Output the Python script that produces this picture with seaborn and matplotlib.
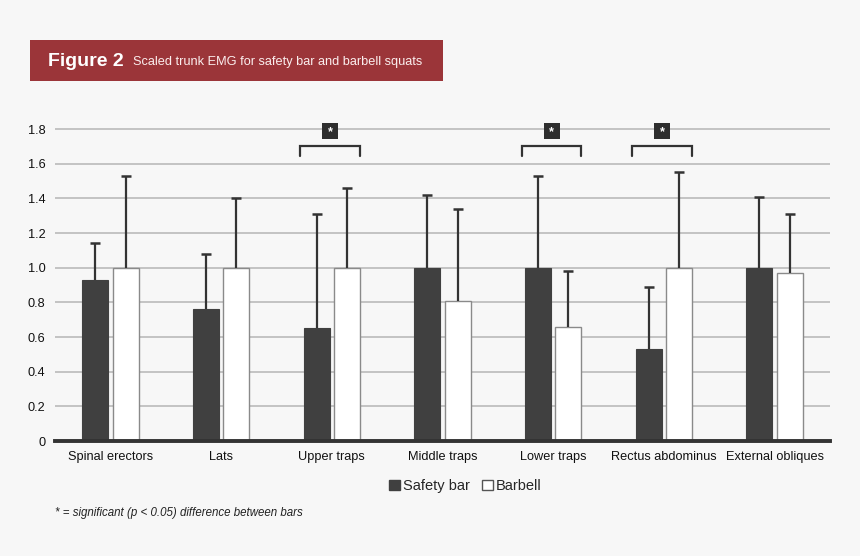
import pandas as pd
import matplotlib.pyplot as plt
import seaborn as sns
from matplotlib.patches import Patch, Rectangle

# Chart data
muscles = ["Spinal erectors", "Lats", "Upper traps", "Middle traps",
           "Lower traps", "Rectus abdominus", "External obliques"]
safety_bar = [0.93, 0.76, 0.65, 1.0, 1.0, 0.53, 1.0]
barbell = [1.0, 1.0, 1.0, 0.81, 0.66, 1.0, 0.97]
safety_sd = [0.21, 0.32, 0.66, 0.42, 0.53, 0.36, 0.41]
barbell_sd = [0.53, 0.40, 0.46, 0.53, 0.32, 0.55, 0.34]
significant = ["Upper traps", "Lower traps", "Rectus abdominus"]
yticks = [0, 0.2, 0.4, 0.6, 0.8, 1.0, 1.2, 1.4, 1.6, 1.8]
ytick_labels = ["0", "0.2", "0.4", "0.6", "0.8", "1.0", "1.2", "1.4", "1.6", "1.8"]

df = pd.DataFrame({
    "Muscle": muscles * 2,
    "Squat": ["Safety bar"] * len(muscles) + ["Barbell"] * len(muscles),
    "EMG": safety_bar + barbell,
})

sns.set_theme(style="white")
plt.rcParams["font.family"] = ["Liberation Sans", "DejaVu Sans"]

bg = "#f7f7f7"
dark = "#404040"
fig = plt.figure(figsize=(8.6, 5.56), dpi=100, facecolor=bg)
ax = fig.add_axes([0.064, 0.2068, 0.901, 0.5705], facecolor=bg)

sns.barplot(data=df, x="Muscle", y="EMG", hue="Squat", order=muscles,
            hue_order=["Safety bar", "Barbell"],
            palette={"Safety bar": dark, "Barbell": "white"},
            width=0.55, gap=0.145, legend=False, ax=ax, zorder=3)

# bar edges
for bar in ax.containers[0]:
    bar.set_edgecolor(dark)
    bar.set_linewidth(0.8)
for bar in ax.containers[1]:
    bar.set_edgecolor("#8a8a8a")
    bar.set_linewidth(1.0)

# upward-only error bars (cap only at the top)
for cont, sd in zip(ax.containers[:2], [safety_sd, barbell_sd]):
    xs = [b.get_x() + b.get_width() / 2 for b in cont]
    ys = [b.get_height() for b in cont]
    tops = [y + s for y, s in zip(ys, sd)]
    ax.vlines(xs, ys, tops, color="#333333", lw=1.6, zorder=4)
    ax.plot(xs, tops, ls="none", marker="_", ms=7, mew=1.8, color="#333333", zorder=4)

# significance brackets
for m in significant:
    i = muscles.index(m)
    b1 = ax.containers[0][i]
    b2 = ax.containers[1][i]
    x1 = b1.get_x() - 0.03
    x2 = b2.get_x() + b2.get_width()
    ax.plot([x1, x1, x2, x2], [1.645, 1.70, 1.70, 1.645], color="#333333",
            lw=1.6, zorder=4, solid_joinstyle="miter")
    xm = (x1 + x2) / 2
    ax.plot([xm], [1.79], marker="s", ms=11.5, color="#2e2e2e", mew=0,
            zorder=5, clip_on=False)
    ax.text(xm, 1.783, "*", ha="center", va="center", color="white",
            fontsize=9, fontweight="bold", zorder=6)

ax.set_xlim(-0.5, len(muscles) - 0.5)
ax.set_ylim(0, 1.83)
ax.set_yticks(yticks)
ax.set_yticklabels(ytick_labels)
ax.yaxis.grid(True, color="#b5b5b5", linewidth=1.1)
ax.set_axisbelow(True)
ax.set_xlabel("")
ax.set_ylabel("")
ax.tick_params(axis="both", length=0, labelsize=9.2, colors="#111111")
ax.tick_params(axis="y", pad=7)
ax.tick_params(axis="x", pad=7)
for s in ["top", "right", "left"]:
    ax.spines[s].set_visible(False)
ax.spines["bottom"].set_color("#333333")
ax.spines["bottom"].set_linewidth(2.8)
ax.spines["bottom"].set_zorder(6)

# legend
handles = [Patch(facecolor=dark, edgecolor=dark, label="Safety bar"),
           Patch(facecolor="white", edgecolor="#555555", label="Barbell")]
fig.legend(handles=handles, loc="center", bbox_to_anchor=(0.541, 0.126), ncol=2,
           frameon=False, fontsize=10.5, handlelength=0.75, handleheight=0.75,
           handletextpad=0.2, columnspacing=0.8)

# footnote
fig.text(0.064, 0.077, "* = significant (p < 0.05) difference between bars",
         fontsize=8.3, style="italic", color="#222222", va="center")

# title banner
fig.patches.append(Rectangle((30 / 860, 1 - 81 / 556), 413 / 860, 41 / 556,
                             transform=fig.transFigure, facecolor="#9b3539",
                             edgecolor="none", zorder=1))
fig.text(48 / 860, 1 - 61 / 556, "Figure 2", color="white", fontsize=14,
         fontweight="bold", va="center", zorder=2)
fig.text(133 / 860, 1 - 61.5 / 556, "Scaled trunk EMG for safety bar and barbell squats",
         color="#fbeeee", fontsize=9.2, va="center", zorder=2)

fig.savefig("out.png", dpi=100, facecolor=bg)
